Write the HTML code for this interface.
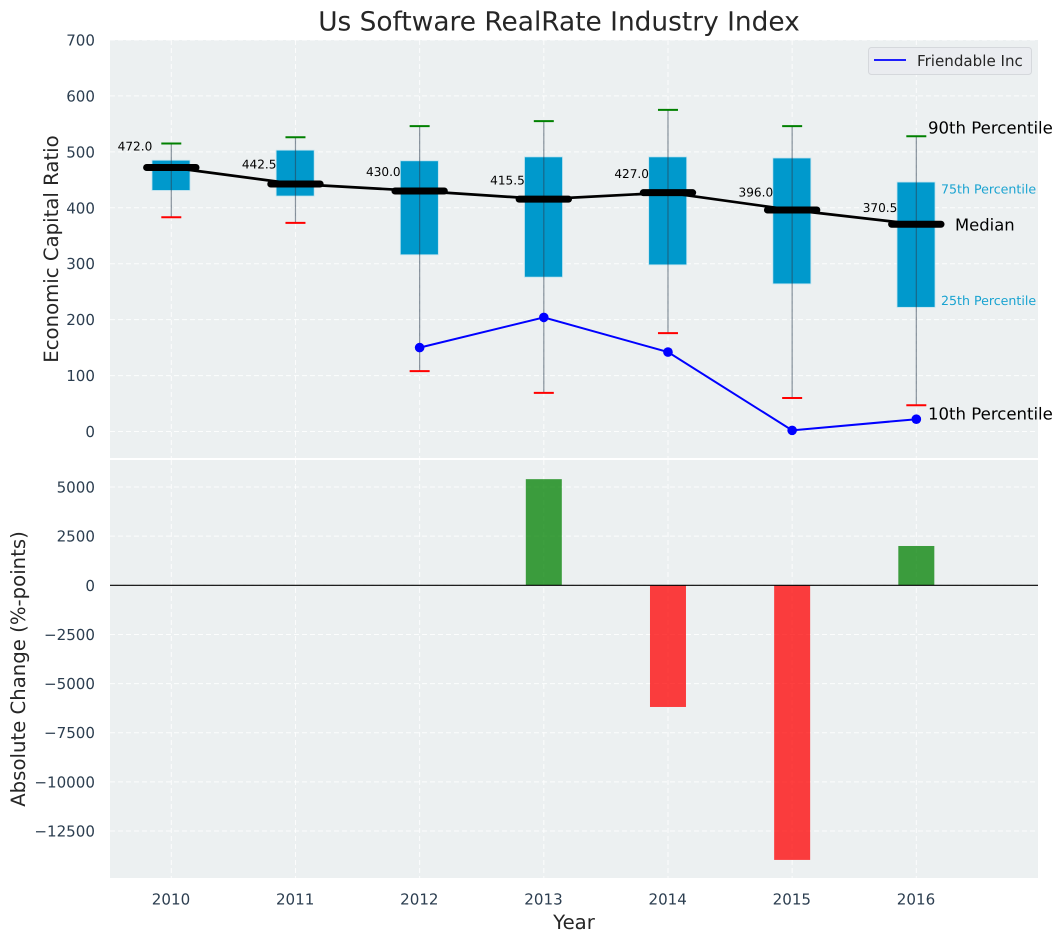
<!DOCTYPE html>
<html lang="en">
<head>
<meta charset="utf-8">
<title>Us Software RealRate Industry Index</title>
<style>
html,body{margin:0;padding:0;background:#fff;}
svg{display:block;font-family:"DejaVu Sans","Liberation Sans",sans-serif;text-rendering:geometricPrecision;}
</style>
</head>
<body>
<svg id="chart" xmlns="http://www.w3.org/2000/svg" width="1063" height="942" viewBox="0 0 1063 942"></svg>
<script>
const years = [2010, 2011, 2012, 2013, 2014, 2015, 2016];
const p90 = [515, 526, 546, 555, 575, 546, 528];
const p75 = [485, 503, 484, 491, 491, 489, 446];
const medians = [472.0, 442.5, 430.0, 415.5, 427.0, 396.0, 370.5];
const p25 = [431, 421, 316, 276, 298, 264, 222];
const p10 = [383, 373, 108, 69, 176, 60, 47];
const companyYears = [2012, 2013, 2014, 2015, 2016];
const companyValues = [150, 204, 142, 2, 22];
const changeYears = [2013, 2014, 2015, 2016];
const changeValues = [5400, -6190, -13970, 2000];
const topTicks = [0, 100, 200, 300, 400, 500, 600, 700];
const bottomTicks = [5000, 2500, 0, -2500, -5000, -7500, -10000, -12500];

const NS = 'http://www.w3.org/2000/svg';
const svg = document.getElementById('chart');
const PL = 110, PR = 1038, T1 = 40, B1 = 458, T2 = 460, B2 = 878;

function x(v) { return 171.3 + (v - 2010) * 124.17; }
function yTop(v) { return 431.5 - v * 0.5593; }
function yBot(v) { return 585.3 - v * 0.019657; }

function mk(tag, attrs, text) {
  const el = document.createElementNS(NS, tag);
  for (const k in attrs) el.setAttribute(k, attrs[k]);
  if (text !== undefined) el.textContent = text;
  svg.appendChild(el);
  return el;
}
function name(el, n, inter) {
  
  
  return el;
}
function fmt(v) { return String(v).replace('-', '\u2212'); }

const GRID = { stroke: '#ffffff', 'stroke-width': 1, 'stroke-dasharray': '5 3', 'stroke-opacity': 0.85 };
const TICKC = '#2c3e50';

// panels
name(mk('rect', { x: PL, y: T1, width: PR - PL, height: B1 - T1, fill: '#ecf0f1' }), 'top-panel-background');
name(mk('rect', { x: PL, y: T2, width: PR - PL, height: B2 - T2, fill: '#ecf0f1' }), 'bottom-panel-background');

// top grid
topTicks.forEach(function (t) {
  name(mk('line', Object.assign({ x1: PL, x2: PR, y1: yTop(t), y2: yTop(t) }, GRID)), 'top-grid-line-y');
  name(mk('text', { x: 95, y: yTop(t) + 5.5, 'text-anchor': 'end', 'font-size': 15.1, fill: TICKC }, fmt(t)), 'top-y-tick-label');
});
// bottom grid
bottomTicks.forEach(function (t) {
  name(mk('line', Object.assign({ x1: PL, x2: PR, y1: yBot(t), y2: yBot(t) }, GRID)), 'bottom-grid-line-y');
  name(mk('text', { x: 95, y: yBot(t) + 5.5, 'text-anchor': 'end', 'font-size': 15.1, fill: TICKC }, fmt(t)), 'bottom-y-tick-label');
});
// vertical grid and x tick labels
years.forEach(function (yr) {
  name(mk('line', Object.assign({ x1: x(yr), x2: x(yr), y1: T1, y2: B1 }, GRID)), 'top-grid-line-x');
  name(mk('line', Object.assign({ x1: x(yr), x2: x(yr), y1: T2, y2: B2 }, GRID)), 'bottom-grid-line-x');
  name(mk('text', { x: x(yr) - 0.3, y: 904.5, 'text-anchor': 'middle', 'font-size': 15.1, fill: TICKC }, String(yr)), 'x-tick-label');
});

// boxes
years.forEach(function (yr, i) {
  name(mk('rect', {
    x: x(yr) - 19.3, y: yTop(p75[i]), width: 38, height: yTop(p25[i]) - yTop(p75[i]),
    fill: '#0099cc', stroke: '#bfe3ef', 'stroke-width': 0.8
  }), 'percentile-box-' + yr);
});
// whiskers
years.forEach(function (yr, i) {
  name(mk('line', {
    x1: x(yr), x2: x(yr), y1: yTop(p90[i]), y2: yTop(p10[i]),
    stroke: '#2c3e50', 'stroke-opacity': 0.55, 'stroke-width': 1.2
  }), 'whisker-' + yr);
  name(mk('line', {
    x1: x(yr) - 10, x2: x(yr) + 10, y1: yTop(p90[i]), y2: yTop(p90[i]),
    stroke: '#008000', 'stroke-width': 2
  }), 'cap-90th-' + yr);
  name(mk('line', {
    x1: x(yr) - 10, x2: x(yr) + 10, y1: yTop(p10[i]), y2: yTop(p10[i]),
    stroke: '#ff0000', 'stroke-width': 2
  }), 'cap-10th-' + yr);
});

// median connecting line
name(mk('polyline', {
  points: years.map(function (yr, i) { return x(yr) + ',' + yTop(medians[i]); }).join(' '),
  fill: 'none', stroke: '#000000', 'stroke-width': 2.7
}), 'median-trend-line');
// median bars and labels (label sits at 1.08 x the median value)
years.forEach(function (yr, i) {
  name(mk('line', {
    x1: x(yr) - 24.7, x2: x(yr) + 24.7, y1: yTop(medians[i]), y2: yTop(medians[i]),
    stroke: '#000000', 'stroke-width': 7, 'stroke-linecap': 'round'
  }), 'median-bar-' + yr);
  name(mk('text', {
    x: x(yr) - 19, y: yTop(medians[i] * 1.08) + 4.2, 'text-anchor': 'end', 'font-size': 12.1, fill: '#000000'
  }, medians[i].toFixed(1)), 'median-value-label-' + yr);
});

// company series
name(mk('polyline', {
  points: companyYears.map(function (yr, i) { return x(yr) + ',' + yTop(companyValues[i]); }).join(' '),
  fill: 'none', stroke: '#0000ff', 'stroke-width': 2
}), 'friendable-inc-line');
companyYears.forEach(function (yr, i) {
  name(mk('circle', { cx: x(yr), cy: yTop(companyValues[i]), r: 4.8, fill: '#0000ff' }), 'friendable-inc-point-' + yr);
});

// change bars
changeYears.forEach(function (yr, i) {
  const v = changeValues[i];
  const y0 = yBot(Math.max(v, 0));
  const y1 = yBot(Math.min(v, 0));
  name(mk('rect', {
    x: x(yr) - 18, y: y0, width: 36, height: y1 - y0,
    fill: v >= 0 ? '#008000' : '#ff0000', 'fill-opacity': 0.75
  }), 'change-bar-' + yr);
});
name(mk('line', { x1: PL, x2: PR, y1: yBot(0), y2: yBot(0), stroke: '#000000', 'stroke-width': 1.2 }), 'zero-line');

// percentile annotations
const lastX = x(years[years.length - 1]);
const lastI = years.length - 1;
name(mk('text', { x: lastX + 11.7, y: yTop(p90[lastI]) - 2.8, 'font-size': 16.55, fill: '#000000' }, '90th Percentile'), 'annotation-90th-percentile');
name(mk('text', { x: lastX + 11.7, y: yTop(p10[lastI]) + 14.2, 'font-size': 16.55, fill: '#000000' }, '10th Percentile'), 'annotation-10th-percentile');
name(mk('text', { x: lastX + 38.7, y: yTop(medians[lastI]) + 6, 'font-size': 16.4, fill: '#000000' }, 'Median'), 'annotation-median');
name(mk('text', { x: lastX + 24.7, y: yTop(p75[lastI]) + 11.5, 'font-size': 12.6, fill: '#19a3d1' }, '75th Percentile'), 'annotation-75th-percentile');
name(mk('text', { x: lastX + 24.7, y: yTop(p25[lastI]) - 2.5, 'font-size': 12.6, fill: '#19a3d1' }, '25th Percentile'), 'annotation-25th-percentile');

// legend
name(mk('rect', { x: 868.5, y: 47.5, width: 163, height: 27, rx: 3, fill: '#eaecf0', stroke: '#d5d8dc', 'stroke-width': 1 }), 'legend-box');
name(mk('line', { x1: 874, x2: 906, y1: 60, y2: 60, stroke: '#0000ff', 'stroke-width': 1.8 }), 'legend-line-friendable-inc');
name(mk('text', { x: 917, y: 66, 'font-size': 15.1, fill: '#262626' }, 'Friendable Inc'), 'legend-label-friendable-inc');

// titles
name(mk('text', { x: 559, y: 30.5, 'text-anchor': 'middle', 'font-size': 26.4, fill: '#262626' }, 'Us Software RealRate Industry Index'), 'chart-title');
name(mk('text', { x: 574, y: 929, 'text-anchor': 'middle', 'font-size': 19.7, fill: '#262626' }, 'Year'), 'x-axis-title');
name(mk('text', { transform: 'translate(58,249) rotate(-90)', 'text-anchor': 'middle', 'font-size': 19.7, fill: '#262626' }, 'Economic Capital Ratio'), 'top-y-axis-title');
name(mk('text', { transform: 'translate(25,669) rotate(-90)', 'text-anchor': 'middle', 'font-size': 19.7, fill: '#262626' }, 'Absolute Change (%-points)'), 'bottom-y-axis-title');
</script>
</body>
</html>
